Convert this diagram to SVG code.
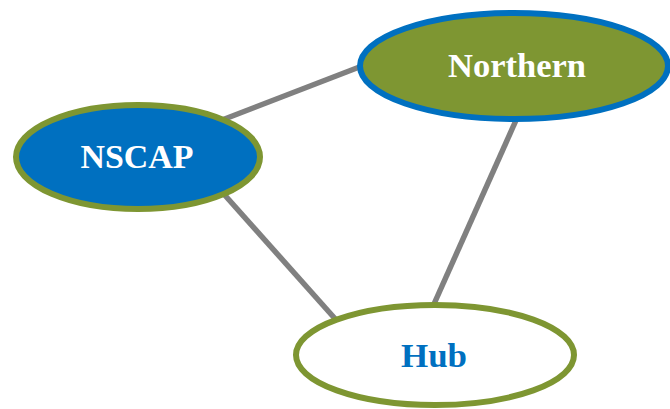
<svg xmlns="http://www.w3.org/2000/svg" width="670" height="409" viewBox="0 0 670 409">
<style>
.edge{stroke:#808080;stroke-width:5.5;fill:none}
.lbl{font-family:"Liberation Serif",serif;font-weight:bold;font-size:33px;text-anchor:middle}
</style>
<rect width="670" height="409" fill="#ffffff"/>
<g id="connectors">
<line class="edge" x1="222" y1="120" x2="362" y2="66"/>
<line class="edge" x1="222" y1="192" x2="338" y2="322"/>
<line class="edge" x1="517" y1="118" x2="434" y2="304"/>
</g>
<g id="nscap">
<ellipse cx="138" cy="157" rx="122" ry="52" fill="#0070C0" stroke="#7E9632" stroke-width="6"/>
<text class="lbl" x="137" y="168" fill="#ffffff" textLength="113" lengthAdjust="spacingAndGlyphs">NSCAP</text>
</g>
<g id="northern">
<ellipse cx="514" cy="66" rx="154" ry="53" fill="#7E9632" stroke="#0070C0" stroke-width="6"/>
<text class="lbl" x="517" y="77" fill="#ffffff" textLength="138" lengthAdjust="spacingAndGlyphs">Northern</text>
</g>
<g id="hub">
<ellipse cx="435" cy="355" rx="139" ry="50" fill="#ffffff" stroke="#7E9632" stroke-width="6"/>
<text class="lbl" x="434" y="367" fill="#0070C0" textLength="66" lengthAdjust="spacingAndGlyphs">Hub</text>
</g>
</svg>
